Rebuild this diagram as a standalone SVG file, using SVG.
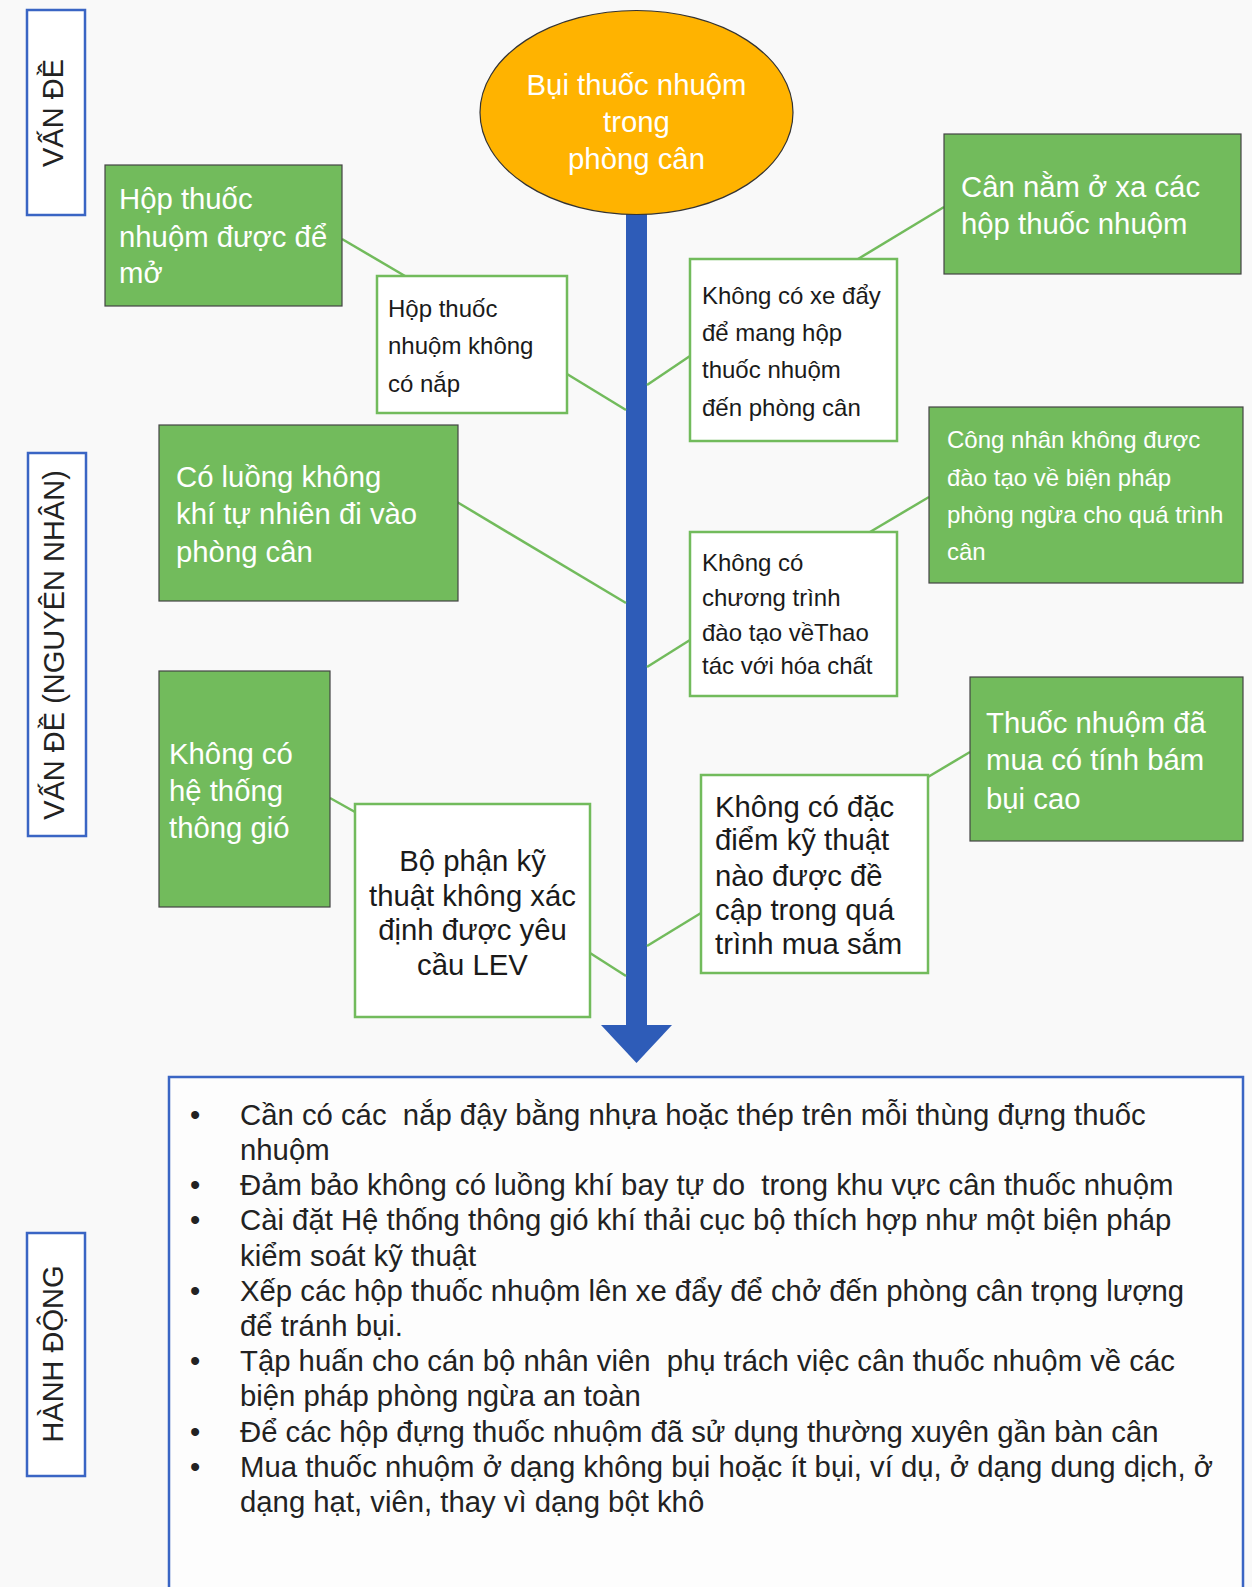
<svg xmlns="http://www.w3.org/2000/svg" width="1252" height="1587" viewBox="0 0 1252 1587">
  <style>
    text { font-family: "Liberation Sans", Arial, sans-serif; }
    .lbl { fill: #ffffff; stroke: #3a65c4; stroke-width: 2.5; }
    .lblt { font-size: 29px; fill: #222222; text-anchor: middle; }
    .green { fill: #72bb5c; stroke: #444444; stroke-width: 1.2; }
    .white { fill: #ffffff; stroke: #72bb5c; stroke-width: 2.5; }
    .tw { fill: #ffffff; font-size: 29.3px; }
    .tws { fill: #ffffff; font-size: 24px; }
    .tb { fill: #1a1a1a; font-size: 29.3px; }
    .tbs { fill: #1a1a1a; font-size: 24px; }
    .conn { stroke: #72bb5c; stroke-width: 2.5; fill: none; }
    .spine { fill: #2e5cb8; }
    .list { fill: #222222; font-size: 29.3px; }
  </style>

  <rect x="0" y="0" width="1252" height="1587" fill="#f9f9f9"/>

  <!-- side labels -->
  <g id="label-van-de">
    <rect class="lbl" x="27" y="10" width="58" height="205"/>
    <text class="lblt" transform="translate(63,113) rotate(-90)">VẤN ĐỀ</text>
  </g>
  <g id="label-nguyen-nhan">
    <rect class="lbl" x="28" y="453" width="58" height="383"/>
    <text class="lblt" transform="translate(64,645) rotate(-90)">VẤN ĐỀ (NGUYÊN NHÂN)</text>
  </g>
  <g id="label-hanh-dong">
    <rect class="lbl" x="27" y="1233" width="58" height="243"/>
    <text class="lblt" transform="translate(63,1354) rotate(-90)">HÀNH ĐỘNG</text>
  </g>

  <!-- spine and branch connectors -->
  <g id="connectors">
    <rect class="spine" x="626" y="200" width="21" height="830"/>
    <polygon class="spine" points="601,1025 672,1025 636.5,1063"/>
    <line class="conn" x1="342" y1="239" x2="405" y2="276"/>
    <line class="conn" x1="567" y1="374" x2="626" y2="410"/>
    <line class="conn" x1="944" y1="207" x2="858" y2="259"/>
    <line class="conn" x1="690" y1="356" x2="647" y2="385"/>
    <line class="conn" x1="457" y1="502" x2="626" y2="603"/>
    <line class="conn" x1="929" y1="497" x2="870" y2="532"/>
    <line class="conn" x1="690" y1="640" x2="647" y2="667"/>
    <line class="conn" x1="330" y1="798" x2="355" y2="812"/>
    <line class="conn" x1="590" y1="953" x2="626" y2="976"/>
    <line class="conn" x1="970" y1="752" x2="928" y2="777"/>
    <line class="conn" x1="701" y1="913" x2="647" y2="946"/>
  </g>

  <!-- problem -->
  <g id="problem">
    <ellipse cx="636.5" cy="112.5" rx="156.5" ry="102" fill="#ffb300" stroke="#333333" stroke-width="1.2"/>
    <text class="tw" text-anchor="middle" x="636.5" y="95">Bụi thuốc nhuộm</text>
    <text class="tw" text-anchor="middle" x="636.5" y="131.5">trong</text>
    <text class="tw" text-anchor="middle" x="636.5" y="169">phòng cân</text>
  </g>

  <!-- causes -->
  <g id="cause-open-boxes">
    <rect class="green" x="105" y="165" width="237" height="141"/>
    <text class="tw" x="119" y="209">Hộp thuốc</text>
    <text class="tw" x="119" y="247">nhuộm được để</text>
    <text class="tw" x="119" y="283">mở</text>
  </g>
  <g id="cause-no-lids">
    <rect class="white" x="377" y="276" width="190" height="137"/>
    <text class="tbs" x="388" y="317">Hộp thuốc</text>
    <text class="tbs" x="388" y="354">nhuộm không</text>
    <text class="tbs" x="388" y="392">có nắp</text>
  </g>
  <g id="cause-no-trolley">
    <rect class="white" x="690" y="259" width="207" height="182"/>
    <text class="tbs" x="702" y="304">Không có xe đẩy</text>
    <text class="tbs" x="702" y="341">để mang hộp</text>
    <text class="tbs" x="702" y="378">thuốc nhuộm</text>
    <text class="tbs" x="702" y="416">đến phòng cân</text>
  </g>
  <g id="cause-scale-far">
    <rect class="green" x="944" y="134" width="297" height="140"/>
    <text class="tw" x="961" y="197">Cân nằm ở xa các</text>
    <text class="tw" x="961" y="234">hộp thuốc nhuộm</text>
  </g>
  <g id="cause-airflow">
    <rect class="green" x="159" y="425" width="299" height="176"/>
    <text class="tw" x="176" y="487">Có luồng không</text>
    <text class="tw" x="176" y="524">khí tự nhiên đi vào</text>
    <text class="tw" x="176" y="562">phòng cân</text>
  </g>
  <g id="cause-untrained">
    <rect class="green" x="929" y="407" width="314" height="176"/>
    <text class="tws" x="947" y="448">Công nhân không được</text>
    <text class="tws" x="947" y="486">đào tạo về biện pháp</text>
    <text class="tws" x="947" y="523">phòng ngừa cho quá trình</text>
    <text class="tws" x="947" y="560">cân</text>
  </g>
  <g id="cause-no-training">
    <rect class="white" x="690" y="532" width="207" height="164"/>
    <text class="tbs" x="702" y="571">Không có</text>
    <text class="tbs" x="702" y="606">chương trình</text>
    <text class="tbs" x="702" y="641">đào tạo vềThao</text>
    <text class="tbs" x="702" y="674">tác với hóa chất</text>
  </g>
  <g id="cause-no-ventilation">
    <rect class="green" x="159" y="671" width="171" height="236"/>
    <text class="tw" x="169" y="764">Không có</text>
    <text class="tw" x="169" y="801">hệ thống</text>
    <text class="tw" x="169" y="838">thông gió</text>
  </g>
  <g id="cause-lev">
    <rect class="white" x="355" y="804" width="235" height="213"/>
    <text class="tb" text-anchor="middle" x="472.5" y="871">Bộ phận kỹ</text>
    <text class="tb" text-anchor="middle" x="472.5" y="906">thuật không xác</text>
    <text class="tb" text-anchor="middle" x="472.5" y="940">định được yêu</text>
    <text class="tb" text-anchor="middle" x="472.5" y="975">cầu LEV</text>
  </g>
  <g id="cause-dusty-dye">
    <rect class="green" x="970" y="677" width="273" height="164"/>
    <text class="tw" x="986" y="733">Thuốc nhuộm đã</text>
    <text class="tw" x="986" y="770">mua có tính bám</text>
    <text class="tw" x="986" y="809">bụi cao</text>
  </g>
  <g id="cause-no-spec">
    <rect class="white" x="701" y="775" width="227" height="198"/>
    <text class="tb" x="715" y="817">Không có đặc</text>
    <text class="tb" x="715" y="850">điểm kỹ thuật</text>
    <text class="tb" x="715" y="886">nào được đề</text>
    <text class="tb" x="715" y="920">cập trong quá</text>
    <text class="tb" x="715" y="954">trình mua sắm</text>
  </g>

  <!-- actions -->
  <g id="actions">
    <rect x="169" y="1077" width="1074" height="530" fill="#fdfdfd" stroke="#3a65c4" stroke-width="2.5"/>
    <g class="list">
      <text x="190" y="1125">•</text>
      <text x="240" y="1125" xml:space="preserve">Cần có các  nắp đậy bằng nhựa hoặc thép trên mỗi thùng đựng thuốc</text>
      <text x="240" y="1160">nhuộm</text>
      <text x="190" y="1195">•</text>
      <text x="240" y="1195" xml:space="preserve">Đảm bảo không có luồng khí bay tự do  trong khu vực cân thuốc nhuộm</text>
      <text x="190" y="1230">•</text>
      <text x="240" y="1230">Cài đặt Hệ thống thông gió khí thải cục bộ thích hợp như một biện pháp</text>
      <text x="240" y="1266">kiểm soát kỹ thuật</text>
      <text x="190" y="1301">•</text>
      <text x="240" y="1301">Xếp các hộp thuốc nhuộm lên xe đẩy để chở đến phòng cân trọng lượng</text>
      <text x="240" y="1336">để tránh bụi.</text>
      <text x="190" y="1371">•</text>
      <text x="240" y="1371" xml:space="preserve">Tập huấn cho cán bộ nhân viên  phụ trách việc cân thuốc nhuộm về các</text>
      <text x="240" y="1406">biện pháp phòng ngừa an toàn</text>
      <text x="190" y="1442">•</text>
      <text x="240" y="1442">Để các hộp đựng thuốc nhuộm đã sử dụng thường xuyên gần bàn cân</text>
      <text x="190" y="1477">•</text>
      <text x="240" y="1477">Mua thuốc nhuộm ở dạng không bụi hoặc ít bụi, ví dụ, ở dạng dung dịch, ở</text>
      <text x="240" y="1512">dạng hạt, viên, thay vì dạng bột khô</text>
    </g>
  </g>
</svg>
